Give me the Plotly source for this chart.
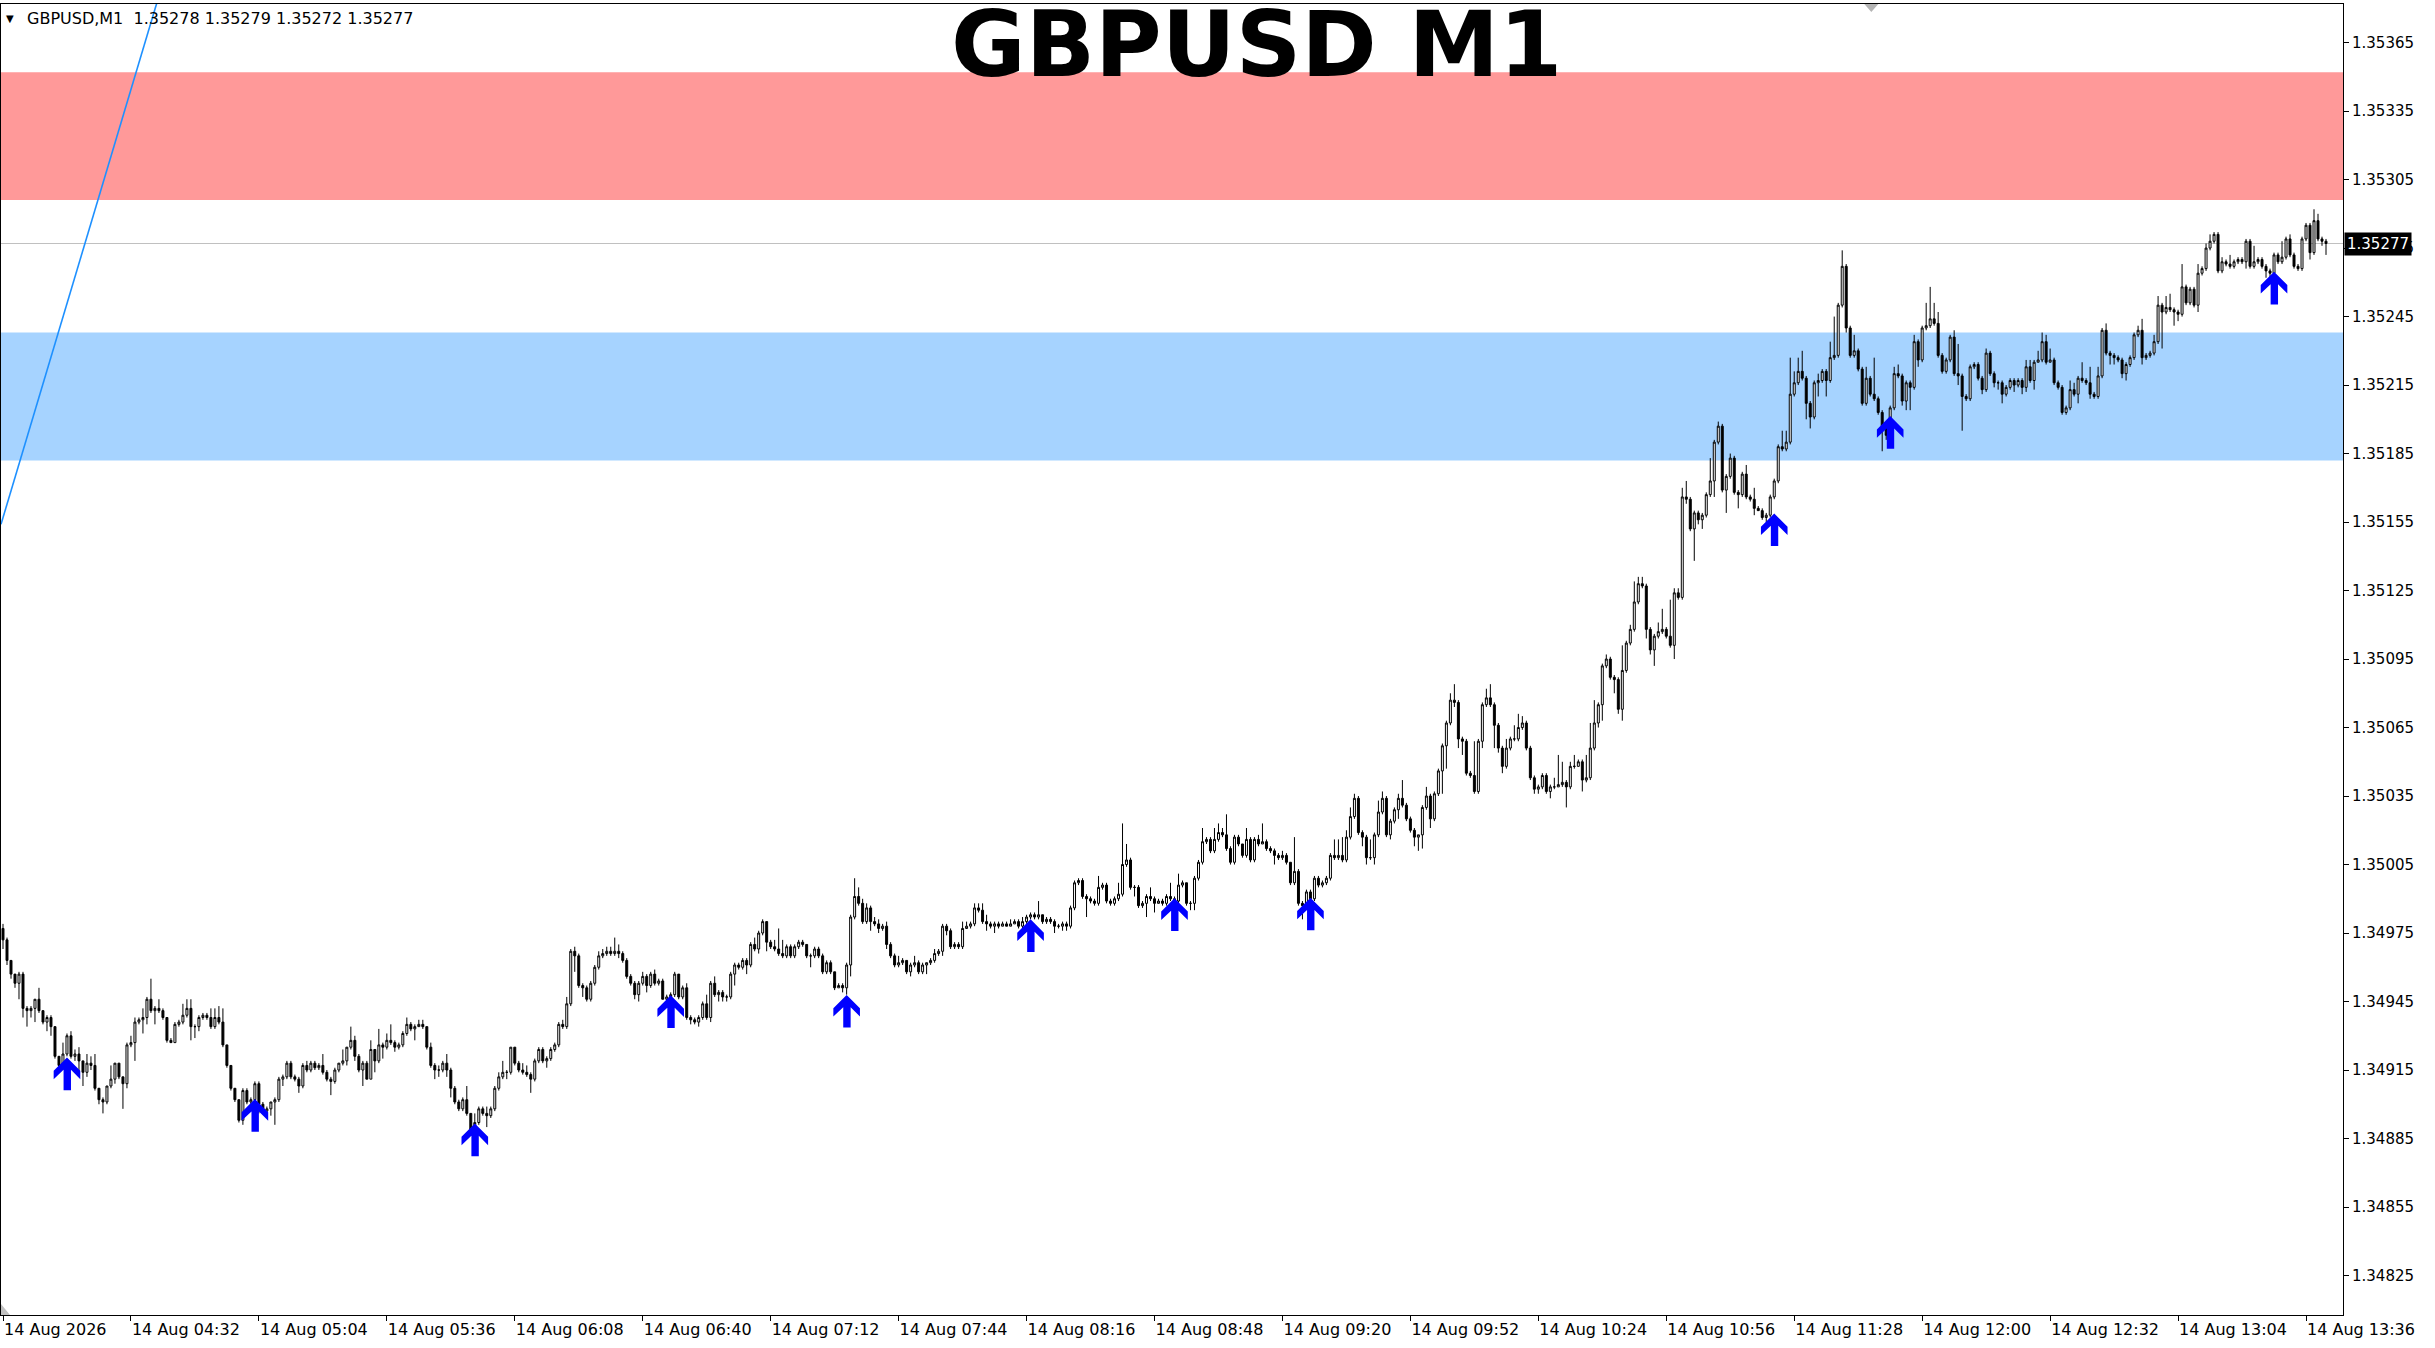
import pandas as pd
import plotly.graph_objects as go

# prices are kept as points (0.00001) above BASE
BASE = 1.34800
PT = 0.00001

start_time = "2026-08-14 04:00"
first_open = 177

close_pts = [
    172,163,157,153,157,142,141,142,146,141,136,138,134,121,117,122,130,121,122,119,
    114,118,117,107,102,101,108,111,118,112,109,126,127,136,137,138,146,141,142,141,
    138,128,127,135,136,139,142,134,134,138,139,138,134,138,136,126,117,107,102,93,
    106,101,102,109,100,97,98,101,102,111,112,118,112,111,108,117,115,118,116,117,
    114,111,110,115,118,119,125,128,121,115,118,111,124,119,126,125,128,127,125,126,
    131,135,133,134,135,134,125,117,115,115,118,115,107,101,98,102,96,89,92,98,
    96,95,98,107,112,114,114,125,118,115,114,113,111,119,124,119,120,124,126,135,
    134,144,167,165,152,151,146,153,160,165,166,167,166,167,166,163,156,153,148,153,
    156,152,157,153,154,146,147,148,157,147,151,138,137,136,138,144,138,153,148,149,
    147,147,157,161,160,163,161,170,168,175,180,171,169,168,166,165,169,165,169,171,
    170,165,165,168,165,158,162,158,151,152,151,161,182,191,188,180,186,180,179,177,
    178,170,165,161,162,163,158,161,162,158,161,162,163,166,167,178,176,169,170,169,
    177,178,179,186,185,180,179,178,179,178,179,178,179,180,178,180,182,183,182,183,
    180,181,180,178,178,179,178,186,197,198,191,190,189,188,195,196,189,188,190,192,
    205,207,195,195,187,188,191,190,188,189,188,191,190,189,196,197,188,188,199,206,
    215,216,211,216,219,218,212,206,217,214,209,216,207,216,214,215,212,211,209,208,
    209,206,197,202,188,187,193,190,199,196,197,199,209,208,209,207,217,226,234,219,
    217,208,208,218,228,234,218,224,229,234,231,225,220,217,218,230,235,225,236,246,
    257,267,277,276,260,259,245,244,237,259,275,278,275,266,256,248,256,260,260,265,
    267,256,243,238,239,244,237,239,239,240,241,239,248,248,250,242,243,256,267,275,
    292,295,287,286,273,290,302,308,320,328,327,308,299,305,307,308,305,301,324,322,
    366,365,352,359,356,358,367,373,390,397,369,375,383,368,367,376,366,365,361,360,
    357,358,366,373,388,387,390,411,416,421,418,407,401,416,417,421,417,427,428,450,
    467,440,428,430,422,407,418,411,409,403,397,393,405,420,419,408,416,414,434,426,
    440,441,444,442,428,421,426,436,420,419,410,409,423,424,418,413,429,420,416,416,
    411,414,417,415,417,414,423,417,425,426,434,425,426,416,414,403,405,413,411,418,
    417,416,411,410,419,439,429,428,427,426,420,424,427,437,439,427,428,429,434,450,
    447,449,448,447,446,458,451,457,450,464,466,475,478,481,465,469,468,467,469,470,
    469,478,467,469,470,467,465,464,472,469,471,479,472,467,466,479,485,473,487,479,
    478,477,
]

high_pts = [
    179,173,163,157,158,158,143,143,146,151,141,139,139,134,121,127,131,132,124,125,
    119,122,121,122,107,103,108,117,118,118,112,127,130,138,138,142,147,155,143,146,
    142,138,129,136,137,144,146,146,135,139,140,140,142,142,143,142,126,117,107,102,
    107,107,103,110,110,101,99,101,103,112,113,119,119,113,112,118,119,119,119,118,
    122,115,112,116,118,124,125,134,130,122,119,119,128,124,133,127,131,135,128,127,
    132,138,136,135,137,137,134,127,118,117,119,122,116,108,102,103,108,96,96,99,
    99,99,99,108,114,119,115,125,125,119,118,117,114,120,125,125,121,125,127,136,
    137,147,168,169,166,153,152,154,161,167,168,169,169,173,170,167,164,157,154,154,
    158,157,158,159,155,155,148,149,158,157,152,153,139,138,139,145,148,154,156,150,
    150,148,158,162,162,164,164,171,173,176,181,180,172,172,177,172,170,170,170,172,
    172,170,166,169,169,166,163,163,156,153,153,162,183,199,195,190,188,187,182,181,
    179,180,171,166,165,164,163,162,165,163,162,162,164,168,168,179,179,177,171,171,
    180,180,180,188,188,188,183,180,180,180,180,180,181,181,181,182,183,184,184,189,
    183,182,182,181,179,180,180,187,198,199,199,192,191,190,200,197,197,190,191,197,
    223,214,208,196,196,189,192,195,191,190,190,192,197,191,201,198,197,189,200,207,
    221,217,217,221,223,221,227,213,218,218,214,221,217,217,218,223,216,213,212,210,
    211,210,206,217,203,189,194,194,200,200,198,200,210,216,216,217,220,230,236,235,
    220,218,216,219,233,237,235,225,230,236,242,232,226,221,218,231,239,236,237,247,
    258,268,280,284,277,261,260,246,259,260,276,282,284,276,267,257,260,261,266,271,
    270,268,257,244,240,245,245,240,243,253,250,242,250,253,251,251,253,267,277,276,
    293,297,296,288,287,301,303,310,329,331,331,328,309,306,311,317,309,321,326,326,
    370,373,366,360,360,359,368,383,391,399,398,376,385,384,369,377,380,367,370,362,
    361,359,367,374,389,395,395,427,421,427,430,419,408,417,420,422,422,434,445,451,
    474,468,441,437,431,423,423,419,427,410,404,398,406,423,424,420,417,417,437,435,
    441,451,458,451,447,429,427,437,439,433,420,411,424,425,425,419,431,430,421,417,
    417,415,418,418,418,418,426,426,426,430,438,437,431,427,417,415,406,417,416,419,
    425,418,423,412,423,440,442,430,429,428,427,425,428,438,441,444,429,430,437,454,
    451,454,455,449,448,468,459,458,458,468,467,477,481,482,482,471,470,472,470,471,
    471,479,479,476,471,471,468,466,473,473,478,480,481,473,468,480,486,486,492,490,
    480,479,
]

low_pts = [
    168,161,155,151,146,138,134,138,136,140,135,132,130,120,116,116,121,120,119,112,
    108,112,115,106,100,96,100,107,109,111,98,107,125,119,135,131,135,140,135,140,
    137,127,127,127,134,135,138,128,129,132,137,137,133,133,135,125,116,106,101,92,
    91,100,100,101,96,96,96,95,91,101,108,111,111,110,105,107,114,114,115,115,
    113,110,104,109,114,117,117,124,119,114,108,111,111,114,118,120,124,126,123,124,
    125,130,132,128,134,133,124,116,111,112,114,112,103,100,97,97,95,88,88,91,
    95,90,94,97,106,111,111,113,117,114,113,112,105,110,118,118,116,119,123,125,
    133,133,143,158,151,147,145,145,152,159,164,165,165,165,164,162,155,152,146,145,
    152,149,151,152,152,146,145,146,147,146,146,137,135,135,134,137,137,136,147,145,
    145,145,146,152,159,159,157,160,167,166,174,167,168,167,165,164,164,164,164,168,
    169,164,160,164,164,157,157,157,150,151,149,148,156,181,187,179,179,176,178,175,
    176,168,164,160,160,161,157,156,160,157,157,157,161,162,165,165,174,168,168,168,
    168,177,177,178,184,179,176,177,175,177,178,178,178,179,177,177,179,181,181,181,
    179,179,179,175,177,176,176,177,185,196,190,182,188,187,187,194,188,187,187,189,
    191,204,194,191,186,186,182,189,184,188,187,187,189,189,188,195,187,185,185,198,
    205,214,210,210,215,217,211,205,205,213,208,208,206,206,213,214,211,210,205,207,
    207,205,196,196,187,181,186,189,189,195,195,196,198,207,207,206,206,216,225,218,
    213,205,207,205,217,227,217,216,223,225,230,224,219,213,211,212,229,221,224,235,
    236,247,266,274,256,253,244,243,236,236,256,274,274,256,254,245,247,255,259,259,
    264,255,242,236,236,238,236,234,238,239,239,230,238,247,248,237,241,242,255,265,
    268,291,286,280,271,268,289,301,307,319,326,304,297,292,304,306,304,300,295,321,
    321,363,351,338,354,352,357,366,366,389,368,359,374,367,361,366,365,364,358,360,
    356,355,357,365,372,386,386,389,410,415,417,400,396,400,410,416,410,416,426,427,
    449,438,427,427,421,406,406,410,408,402,386,391,392,404,418,406,404,404,413,423,
    425,439,440,441,427,420,420,425,419,415,395,408,408,422,417,411,412,419,414,413,
    407,410,413,412,414,411,412,416,413,425,425,424,425,415,413,402,402,404,410,407,
    416,415,409,409,409,418,428,424,424,425,418,417,423,426,436,424,426,427,428,433,
    431,446,447,441,443,445,450,450,449,447,463,465,474,477,464,464,467,466,466,468,
    468,466,466,466,468,466,462,462,463,468,468,470,471,466,465,465,478,470,472,478,
    476,472,
]

# buy-signal arrows: bar number from the first bar, price in points
arrow_bar = [16, 63, 118, 167, 211, 257, 293, 327, 443, 472, 568]
arrow_pts = [120.5, 102.3, 91.6, 147.7, 147.9, 181.0, 190.2, 190.5, 358.8, 401.4, 464.6]

supply_zone = [1.35296, 1.35352]
demand_zone = [1.35182, 1.35238]
trend_time = ["2026-08-14 03:59:30", "2026-08-14 04:38:45"]
trend_price = [1.35154, 1.35384]
last_price = 1.35277

x_tick_times = ["2026-08-14 04:00", "2026-08-14 04:32", "2026-08-14 05:04", "2026-08-14 05:36",
                "2026-08-14 06:08", "2026-08-14 06:40", "2026-08-14 07:12", "2026-08-14 07:44",
                "2026-08-14 08:16", "2026-08-14 08:48", "2026-08-14 09:20", "2026-08-14 09:52",
                "2026-08-14 10:24", "2026-08-14 10:56", "2026-08-14 11:28", "2026-08-14 12:00",
                "2026-08-14 12:32", "2026-08-14 13:04", "2026-08-14 13:36"]
x_tick_text = ["14 Aug 2026", "14 Aug 04:32", "14 Aug 05:04", "14 Aug 05:36", "14 Aug 06:08",
               "14 Aug 06:40", "14 Aug 07:12", "14 Aug 07:44", "14 Aug 08:16", "14 Aug 08:48",
               "14 Aug 09:20", "14 Aug 09:52", "14 Aug 10:24", "14 Aug 10:56", "14 Aug 11:28",
               "14 Aug 12:00", "14 Aug 12:32", "14 Aug 13:04", "14 Aug 13:36"]
y_tick_text = ["1.34825", "1.34855", "1.34885", "1.34915", "1.34945", "1.34975", "1.35005",
               "1.35035", "1.35065", "1.35095", "1.35125", "1.35155", "1.35185", "1.35215",
               "1.35245", "1.35275", "1.35305", "1.35335", "1.35365"]

assert len(close_pts) == len(high_pts) == len(low_pts)

times = pd.date_range(start_time, periods=len(close_pts), freq="min")
open_pts = [first_open] + close_pts[:-1]
o = [BASE + v * PT for v in open_pts]
c = [BASE + v * PT for v in close_pts]
h = [BASE + max(v, a, b) * PT for v, a, b in zip(high_pts, open_pts, close_pts)]
l = [BASE + min(v, a, b) * PT for v, a, b in zip(low_pts, open_pts, close_pts)]

fig = go.Figure()

fig.add_trace(go.Candlestick(
    x=times, open=o, high=h, low=l, close=c,
    increasing=dict(line=dict(color="black", width=1), fillcolor="white"),
    decreasing=dict(line=dict(color="black", width=1), fillcolor="black"),
    whiskerwidth=0, showlegend=False, hoverinfo="skip"))

fig.add_trace(go.Scatter(
    x=trend_time, y=trend_price, mode="lines",
    line=dict(color="#1E90FF", width=1.6), showlegend=False, hoverinfo="skip"))

# zones
for zone, col in [(supply_zone, "#FF9999"), (demand_zone, "#A6D3FF")]:
    fig.add_shape(type="rect", xref="paper", x0=0, x1=1, yref="y", y0=zone[0], y1=zone[1],
                  fillcolor=col, line_width=0, layer="below")

# bid line
fig.add_shape(type="line", xref="paper", x0=0, x1=1, yref="y", y0=last_price, y1=last_price,
              line=dict(color="#C0C0C0", width=1), layer="below")

# arrows (pixel-sized, anchored at the signal price)
arrow_path = ("M0,0 L13.3,-13.3 L13.3,-21.7 L4,-12.4 L4,-32.7 L-3.4,-32.7 "
              "L-3.4,-12.4 L-13.3,-21.7 L-13.3,-13.3 Z")
for b, p in zip(arrow_bar, arrow_pts):
    fig.add_shape(type="path", xref="x", yref="y", xsizemode="pixel", ysizemode="pixel",
                  xanchor=times[b].strftime("%Y-%m-%d %H:%M"), yanchor=BASE + p * PT,
                  path=arrow_path, fillcolor="#0000FF", line_width=0, layer="above")

# little grey markers of the terminal
fig.add_shape(type="path", xref="paper", yref="paper", xsizemode="pixel", ysizemode="pixel",
              xanchor=0.7986, yanchor=1, path="M-7,0 L7,0 L0,-8 Z",
              fillcolor="#B4B4B4", line_width=0)
fig.add_shape(type="path", xref="paper", yref="paper", xsizemode="pixel", ysizemode="pixel",
              xanchor=0, yanchor=0, path="M0,0 L9,0 L0,11 Z",
              fillcolor="#C0C0C0", line_width=0)

fig.add_annotation(xref="paper", yref="paper", x=0, y=1, xanchor="left", yanchor="middle",
                   xshift=3, yshift=-14, showarrow=False, text="▼",
                   font=dict(family="DejaVu Sans", size=10, color="black"))
fig.add_annotation(xref="paper", yref="paper", x=0, y=1, xanchor="left", yanchor="middle",
                   xshift=24, yshift=-14, showarrow=False,
                   text="GBPUSD,M1  1.35278 1.35279 1.35272 1.35277",
                   font=dict(family="DejaVu Sans", size=16, color="black"))
fig.add_annotation(xref="paper", yref="paper", x=0.536, y=1, xanchor="center", yanchor="top",
                   yshift=14, showarrow=False, text="<b>GBPUSD M1</b>",
                   font=dict(family="DejaVu Sans", size=91, color="black"))
fig.add_annotation(xref="paper", yref="y", x=1, y=last_price, xanchor="left", yanchor="middle",
                   xshift=1, showarrow=False, text="1.35277", bgcolor="black", borderpad=2,
                   font=dict(family="DejaVu Sans", size=15, color="white"))

fig.update_layout(
    width=2435, height=1348, autosize=False,
    margin=dict(l=1, r=92, t=4, b=33),
    paper_bgcolor="white", plot_bgcolor="white",
    showlegend=False, hovermode=False,
    boxgap=0.3, boxgroupgap=0.3,
    xaxis=dict(
        type="date", range=["2026-08-14 03:59:30", "2026-08-14 13:45:15"],
        rangeslider=dict(visible=False), showgrid=False, zeroline=False,
        showline=True, linecolor="black", linewidth=1, mirror=True,
        ticks="outside", ticklen=5, tickcolor="black",
        tickvals=x_tick_times, ticktext=x_tick_text, ticklabelposition="outside right",
        tickfont=dict(family="DejaVu Sans", size=16, color="black")),
    yaxis=dict(
        range=[1.348077, 1.353819], side="right", showgrid=False, zeroline=False,
        showline=True, linecolor="black", linewidth=1, mirror=True,
        ticks="outside", ticklen=5, tickcolor="black",
        tickvals=[float(t) for t in y_tick_text], ticktext=y_tick_text,
        tickfont=dict(family="DejaVu Sans", size=15, color="black")),
)

fig.write_html("out.html", config={"displayModeBar": False},
               post_script="document.body.style.margin='0';")
